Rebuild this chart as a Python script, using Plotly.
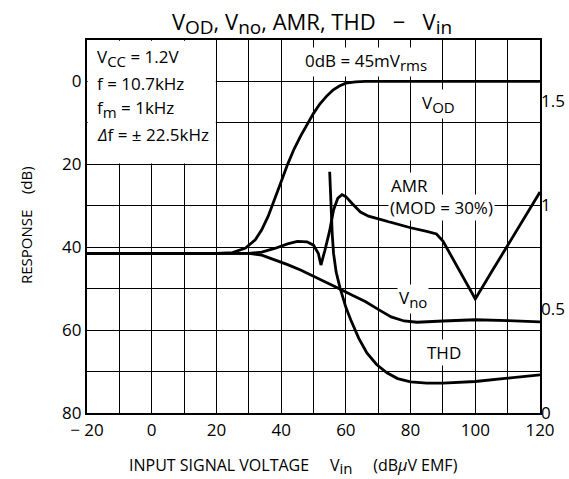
import plotly.graph_objects as go

# ---- data ----
vod_x = [-20, 20, 25, 29, 32, 34, 36, 38, 40, 42, 44, 46, 48, 50, 52, 54, 56, 58, 60, 63, 66, 120]
vod_y = [41.5, 41.5, 41.3, 40.2, 38.2, 35.8, 32.5, 28.5, 24.2, 20, 16.3, 13.2, 10.3, 7.7, 5.4, 3.6, 2.1, 1.1, 0.4, 0.1, 0, 0]

amr_x = [-20, 30, 34, 38, 42, 45, 48, 50, 51.5, 52.3, 53.5, 55, 56.2, 57.5, 58.8, 60, 62, 64.5, 67, 70.5,
         75, 80, 85, 88, 90, 95, 100, 105, 110, 115, 120]
amr_y = [41.5, 41.5, 41.2, 40.3, 39.2, 38.6, 38.7, 39.5, 41.5, 44.3, 40.8, 36, 31, 28.2, 27.3, 27.8, 29.5, 31.5, 32.5, 33.3,
         34.3, 35.3, 36.2, 36.8, 38.5, 45.5, 52.5, 46, 39.5, 33, 26.7]

vno_x = [-20, 30, 34, 38, 42, 46, 50, 54, 58, 62, 66, 70, 74, 78, 82, 90, 100, 110, 120]
vno_y = [41.5, 41.5, 41.9, 43, 44.2, 45.5, 47, 48.4, 50, 51.6, 53.1, 55, 56.8, 57.8, 58.1, 57.8, 57.5, 57.7, 58]

thd_x = [55, 55.4, 55.8, 56.2, 57, 58.2, 60, 61.5, 64, 66.5, 69.5, 72.7, 76, 80, 85, 90, 100, 110, 120]
thd_y = [21.8, 30, 37, 41.5, 46, 49.8, 54.5, 57.5, 62, 65.5, 68.3, 70.3, 71.7, 72.5, 72.8, 72.8, 72.4, 71.6, 70.8]

x_ticks = [-20, -10, 0, 10, 20, 30, 40, 50, 60, 70, 80, 90, 100, 110, 120]
x_labels = ["\u2212 20", "", "0", "", "20", "", "40", "", "60", "", "80", "", "100", "", "120"]
y_ticks = [0, 10, 20, 30, 40, 50, 60, 70, 80]
y_labels = ["0", "", "20", "", "40", "", "60", "", "80"]
y2_ticks = [0, 0.5, 1, 1.5]
y2_labels = ["0", "0.5", "1", "1.5"]

FONT = "Open Sans"
L, R, T, B = 87, 540, 40, 413   # plot area in pixels
W, H = 569, 479


def px_x(p):
    return (p - L) / (R - L)


def px_y(p):
    return (B - p) / (B - T)


def sub(t, size):
    return "<sub><span style='font-size:%dpx'>%s</span></sub>" % (size, t)


fig = go.Figure()
for xs, ys in [(vod_x, vod_y), (amr_x, amr_y), (vno_x, vno_y), (thd_x, thd_y)]:
    fig.add_trace(go.Scatter(x=xs, y=ys, mode="lines", line=dict(color="black", width=2.8),
                             showlegend=False, hoverinfo="skip"))
# invisible trace to make the right axis appear
fig.add_trace(go.Scatter(x=[50], y=[0.5], yaxis="y2", mode="markers", marker=dict(opacity=0),
                         showlegend=False, hoverinfo="skip"))

# white area behind the condition box
fig.add_shape(type="rect", xref="x", yref="y", x0=-19.8, x1=19.8, y0=-9.8, y1=19.8,
              fillcolor="white", line=dict(width=0), layer="between")


def ann(text, x, y, xanchor="center", bg="white", size=17):
    fig.add_annotation(text=text, x=x, y=y, xref="x", yref="y", showarrow=False,
                       xanchor=xanchor, yanchor="middle", bgcolor=bg, borderpad=1,
                       font=dict(family=FONT, size=size, color="black"))


clear = "rgba(0,0,0,0)"
ann("V" + sub("CC", 15) + " = 1.2V", -17.4, -5.6, "left", bg=clear)
ann("f = 10.7kHz", -17.4, 0.5, "left", bg=clear)
ann("f" + sub("m", 15) + " = 1kHz", -17.4, 6.6, "left", bg=clear)
ann("<i>\u0394</i>f = \u00b1 22.5kHz", -17.4, 12.9, "left", bg=clear)
ann("0dB = 45mV" + sub("rms", 15), 66.2, -4.6)
ann("V" + sub("OD", 15), 88.5, 5.5)
ann("AMR", 73.3, 25.0, "left")
ann("(MOD = 30%)", 73.0, 30.3, "left")
ann("V" + sub("no", 15), 80.7, 52.4)
ann("THD", 90.3, 65.5)

# axis titles
fig.add_annotation(text="RESPONSE    (dB)", x=px_x(26), y=px_y(225), xref="paper", yref="paper",
                   showarrow=False, textangle=-90, font=dict(family=FONT, size=15, color="black"),
                   xanchor="center", yanchor="middle")
fig.add_annotation(text="INPUT SIGNAL VOLTAGE     V" + sub("in", 15) + "     (dB<i>\u03bc</i>V EMF)",
                   x=px_x(293), y=px_y(466), xref="paper", yref="paper",
                   showarrow=False, font=dict(family=FONT, size=16, color="black"),
                   xanchor="center", yanchor="middle")

fig.update_layout(
    width=W, height=H,
    margin=dict(l=L, r=W - R, t=T, b=H - B, autoexpand=False),
    paper_bgcolor="white", plot_bgcolor="white",
    title=dict(text="V" + sub("OD", 19) + ", V" + sub("no", 19) + ", AMR, THD   \u2212   V" + sub("in", 19),
               x=312 / W, xanchor="center", y=1 - 22 / H, yanchor="middle",
               font=dict(family=FONT, size=22, color="black")),
    xaxis=dict(range=[-20, 120], tickvals=x_ticks, ticktext=x_labels, showgrid=True,
               gridcolor="black", gridwidth=1.2, showline=True, linecolor="black", linewidth=2.2,
               mirror=True, ticks="", zeroline=False, automargin=False,
               tickfont=dict(family=FONT, size=17, color="black")),
    yaxis=dict(range=[80, -10], tickvals=y_ticks, ticktext=y_labels, showgrid=True,
               gridcolor="black", gridwidth=1.2, showline=True, linecolor="black", linewidth=2.2,
               mirror=True, ticks="", zeroline=False, automargin=False,
               tickfont=dict(family=FONT, size=17, color="black")),
    yaxis2=dict(range=[0, 373 / 208], overlaying="y", side="right", tickvals=y2_ticks,
                ticktext=y2_labels, showgrid=False, showline=False, ticks="", zeroline=False,
                automargin=False, tickfont=dict(family=FONT, size=17, color="black")),
)

fig.write_html("out.html")
